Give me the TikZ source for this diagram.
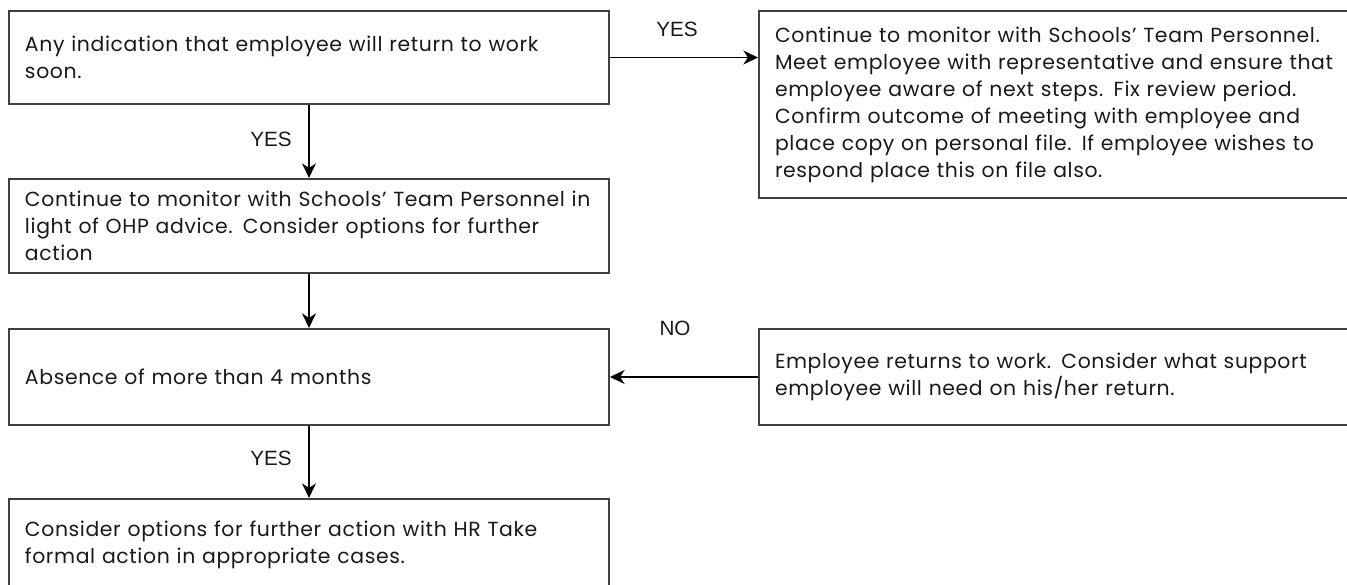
\documentclass[tikz,border=0pt]{standalone}
\usepackage{fontspec}
\setmainfont{Poppins}[LetterSpace=3]
\newfontfamily\labelfont{Liberation Sans}
\usetikzlibrary{arrows.meta}
\begin{document}
\begin{tikzpicture}[x=0.75pt,y=-0.75pt,
  box/.style={draw=black!75, line width=1.5pt, anchor=north west, inner xsep=12pt, inner ysep=0pt,
    align=left, font=\fontsize{15.3pt}{20.25pt}\selectfont, text=black!90},
  arr/.style={draw=black, line width=1.1pt, -{Stealth[length=11pt,width=10.5pt,inset=3.5pt]}},
  lbl/.style={font=\labelfont\fontsize{15.5pt}{17pt}\selectfont, text=black!90}]
\clip (0,0) rectangle (1347,585);
\node[box, minimum width=450pt, minimum height=69.75pt, text width=426pt] (b1) at (8,10)
  {Any indication that employee will return to work\\soon.};
\node[box, minimum width=450pt, minimum height=140.25pt, text width=445pt] (b2) at (758,10)
  {Continue to monitor with Schools' Team Personnel.\\Meet employee with representative and ensure that\\employee aware of next steps. Fix review period.\\Confirm outcome of meeting with employee and\\place copy on personal file. If employee wishes to\\respond place this on file also.};
\node[box, minimum width=450pt, minimum height=70.5pt, text width=426pt] (b3) at (8,178)
  {Continue to monitor with Schools' Team Personnel in\\light of OHP advice. Consider options for further\\action};
\node[box, minimum width=450pt, minimum height=72pt, text width=426pt] (b4) at (8,328)
  {Absence of more than 4 months};
\node[box, minimum width=450pt, minimum height=72pt, text width=445pt] (b5) at (758,328)
  {Employee returns to work. Consider what support\\employee will need on his/her return.};
\node[box, minimum width=450pt, minimum height=69pt, text width=426pt] (b6) at (8,498)
  {Consider options for further action with HR Take\\formal action in appropriate cases.};
\draw[arr] (b1.east) -- (b1.east -| b2.west);
\draw[arr] (b1.south) -- (b3.north);
\draw[arr] (b3.south) -- (b4.north);
\draw[arr] (b5.west) -- (b4.east);
\draw[arr] (b4.south) -- (b6.north);
\node[lbl] (l1) at (677,29) {YES};
\node[lbl] (l2) at (271,139) {YES};
\node[lbl] (l3) at (675,328) {NO};
\node[lbl] (l4) at (271,458) {YES};
\end{tikzpicture}
\end{document}
